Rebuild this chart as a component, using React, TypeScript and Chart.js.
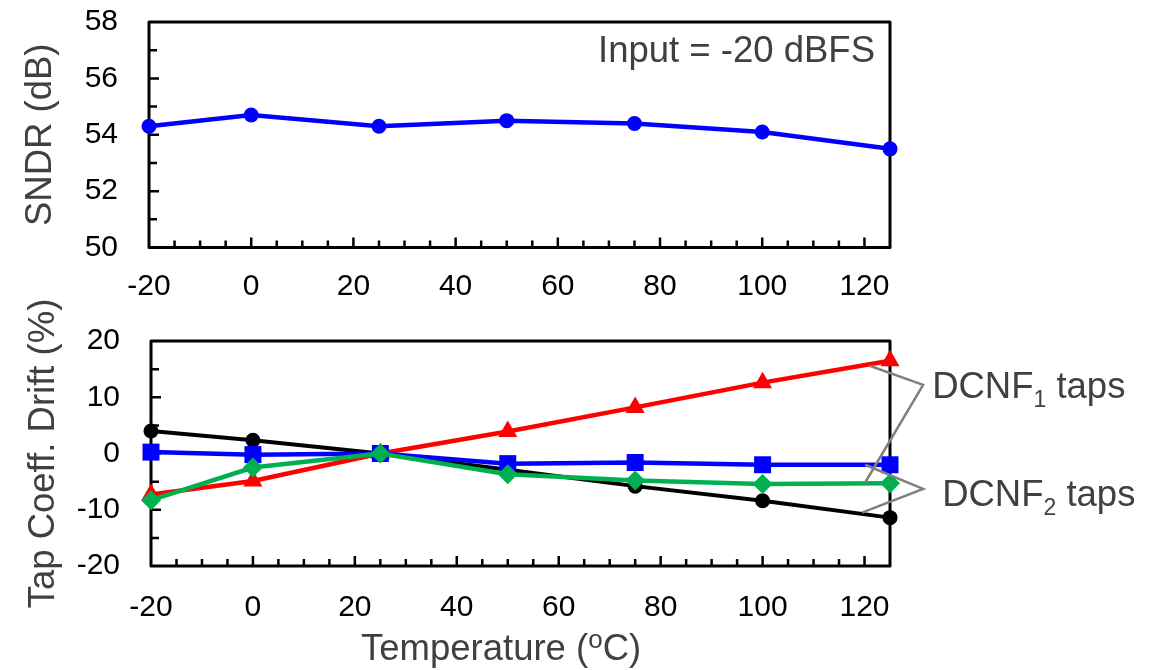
import React, { useEffect, useRef } from "react";
import { Chart, registerables } from "chart.js";

Chart.register(...registerables);

// ---------------- data ----------------
const temps = [-20, 0, 25, 50, 75, 100, 125];
const sndr = [54.3, 54.7, 54.3, 54.5, 54.4, 54.1, 53.5];
const dcnf1Red = [-7.3, -4.9, 0, 3.9, 8.2, 12.6, 16.5];
const dcnf1Green = [-8.3, -2.5, 0, -3.7, -4.8, -5.4, -5.3];
const dcnf2Blue = [0.25, -0.2, 0, -1.8, -1.6, -2.0, -2.0];
const dcnf2Black = [4.0, 2.35, 0, -2.9, -5.8, -8.4, -11.4];

const xTickLabels = [-20, 0, 20, 40, 60, 80, 100, 120];
const sndrTicks = [50, 52, 54, 56, 58];
const driftTicks = [-20, -10, 0, 10, 20];

// annotation anchors (data units of the lower chart)
const dcnf1Vertex = [131.5, 12.2];
const dcnf1Ends = [
  [121.0, 15.6],
  [120.1, -5.2],
];
const dcnf2Vertex = [131.5, -6.3];
const dcnf2Ends = [
  [120.1, -2.0],
  [119.5, -10.5],
];

const FONT = '"Liberation Sans", Arial, Helvetica, sans-serif';
const TITLE_SIZE = 36.5;
const TICK_SIZE = 30;
const GREY_TEXT = "#404040";

Chart.defaults.font.family = FONT;

const pts = (ys: number[]) => temps.map((x, i) => ({ x, y: ys[i] }));

function frameTicksPlugin(
  xMin: number,
  xMax: number,
  xMinor: number,
  xMajor: number,
  yMin: number,
  yMax: number,
  yMinor: number,
  yMajor: number
) {
  return {
    id: "frameTicks",
    beforeDatasetsDraw(chart: any) {
      const { ctx, chartArea: a, scales } = chart;
      const xs = scales.x;
      const ys = scales.y;
      ctx.save();
      ctx.strokeStyle = "#000";
      ctx.lineWidth = 2.5;
      ctx.lineCap = "butt";
      ctx.beginPath();
      for (let v = xMin + xMinor; v < xMax; v += xMinor) {
        const px = xs.getPixelForValue(v);
        const major = Math.abs((v - xMin) % xMajor) < 1e-9;
        const len = major ? 10 : 7;
        ctx.moveTo(px, a.bottom);
        ctx.lineTo(px, a.bottom - len);
      }
      for (let v = yMin + yMinor; v < yMax; v += yMinor) {
        const py = ys.getPixelForValue(v);
        const major = Math.abs((v - yMin) % yMajor) < 1e-9;
        const len = major ? 10 : 8;
        ctx.moveTo(a.left, py);
        ctx.lineTo(a.left + len, py);
      }
      ctx.stroke();
      ctx.lineWidth = 3;
      ctx.lineJoin = "round";
      ctx.strokeRect(a.left, a.top, a.right - a.left, a.bottom - a.top);
      ctx.restore();
    },
  };
}

const topTextPlugin = {
  id: "topText",
  afterDatasetsDraw(chart: any) {
    const { ctx, chartArea: a } = chart;
    ctx.save();
    ctx.font = `${TITLE_SIZE}px ${FONT}`;
    ctx.fillStyle = GREY_TEXT;
    ctx.textAlign = "right";
    ctx.textBaseline = "alphabetic";
    ctx.fillText("Input = -20 dBFS", a.right - 15, a.top + 40);
    ctx.restore();
  },
};

function drawSubLabel(ctx: any, x: number, y: number, main: string, sub: string, rest: string) {
  ctx.font = `${TITLE_SIZE}px ${FONT}`;
  ctx.fillText(main, x, y);
  let cx = x + ctx.measureText(main).width;
  ctx.font = `${23}px ${FONT}`;
  ctx.fillText(sub, cx, y + 9);
  cx += ctx.measureText(sub).width;
  ctx.font = `${TITLE_SIZE}px ${FONT}`;
  ctx.fillText(rest, cx, y);
}

const bottomTextPlugin = {
  id: "bottomText",
  afterDatasetsDraw(chart: any) {
    const { ctx, scales } = chart;
    const xs = scales.x;
    const ys = scales.y;
    const P = (p: number[]) => [xs.getPixelForValue(p[0]), ys.getPixelForValue(p[1])];
    ctx.save();
    // brackets
    ctx.strokeStyle = "#808080";
    ctx.lineWidth = 2.5;
    ctx.lineJoin = "miter";
    const brackets: [number[], number[][]][] = [
      [dcnf1Vertex, dcnf1Ends],
      [dcnf2Vertex, dcnf2Ends],
    ];
    for (const [v, ends] of brackets) {
      const pv = P(v);
      const e0 = P(ends[0]);
      const e1 = P(ends[1]);
      ctx.beginPath();
      ctx.moveTo(e0[0], e0[1]);
      ctx.lineTo(pv[0], pv[1]);
      ctx.lineTo(e1[0], e1[1]);
      ctx.stroke();
    }
    ctx.fillStyle = GREY_TEXT;
    ctx.textAlign = "left";
    ctx.textBaseline = "alphabetic";
    const v1 = P(dcnf1Vertex);
    const v2 = P(dcnf2Vertex);
    drawSubLabel(ctx, v1[0] + 9, v1[1] + 13, "DCNF", "1", " taps");
    drawSubLabel(ctx, v2[0] + 19, v2[1] + 17, "DCNF", "2", " taps");

    // x-axis title with superscript
    const base = chart.height - 10;
    const startX = 361;
    ctx.font = `${TITLE_SIZE}px ${FONT}`;
    const t1 = "Temperature (";
    ctx.fillText(t1, startX, base);
    let cx = startX + ctx.measureText(t1).width;
    ctx.font = `${26}px ${FONT}`;
    ctx.fillText("o", cx, base - 12.5);
    cx += ctx.measureText("o").width;
    ctx.font = `${TITLE_SIZE}px ${FONT}`;
    ctx.fillText("C)", cx, base);
    ctx.restore();
  },
};

function xScale(padding: number, height: number) {
  return {
    type: "linear" as const,
    min: -20,
    max: 125,
    grid: { display: false, drawTicks: false },
    border: { display: false },
    ticks: {
      padding,
      color: "#000",
      font: { size: TICK_SIZE },
      maxRotation: 0,
      autoSkip: false,
    },
    afterBuildTicks: (s: any) => {
      s.ticks = xTickLabels.map((v) => ({ value: v }));
    },
    afterFit: (s: any) => {
      s.height = height;
      s.paddingLeft = 0;
      s.paddingRight = 0;
      s.paddingTop = 0;
      s.paddingBottom = 0;
    },
  };
}

function yScale(min: number, max: number, ticks: number[], title: string, titlePad: number, width: number) {
  return {
    type: "linear" as const,
    min,
    max,
    grid: { display: false, drawTicks: false },
    border: { display: false },
    ticks: {
      padding: 31,
      color: "#000",
      font: { size: TICK_SIZE },
      autoSkip: false,
    },
    title: {
      display: true,
      text: title,
      color: GREY_TEXT,
      font: { size: TITLE_SIZE },
      padding: { top: titlePad, bottom: 0 },
    },
    afterBuildTicks: (s: any) => {
      s.ticks = ticks.map((v) => ({ value: v }));
    },
    afterFit: (s: any) => {
      s.width = width;
      s.paddingLeft = 0;
      s.paddingRight = 0;
      s.paddingTop = 0;
      s.paddingBottom = 0;
    },
  };
}

export default function App() {
  const topRef = useRef<HTMLCanvasElement>(null);
  const botRef = useRef<HTMLCanvasElement>(null);

  useEffect(() => {
    const common = {
      responsive: false,
      animation: false as const,
      plugins: { legend: { display: false }, tooltip: { enabled: false } },
      elements: { line: { tension: 0 } },
    };

    const c1 = new Chart(topRef.current as HTMLCanvasElement, {
      type: "line",
      data: {
        datasets: [
          {
            data: pts(sndr),
            borderColor: "#0000FF",
            backgroundColor: "#0000FF",
            borderWidth: 4.5,
            pointStyle: "circle",
            pointRadius: 7.5,
            pointBorderWidth: 0,
            clip: false,
          } as any,
        ],
      },
      options: {
        ...common,
        layout: { padding: { left: 0, top: 22, right: 273, bottom: 0 } },
        scales: {
          x: xScale(21, 62.5),
          y: yScale(50, 58, sndrTicks, "SNDR (dB)", 19, 149),
        },
      } as any,
      plugins: [frameTicksPlugin(-20, 125, 5, 20, 50, 58, 1, 2), topTextPlugin],
    });

    const mk = (ys: number[], color: string, style: string, r: number, bw: number) =>
      ({
        data: pts(ys),
        borderColor: color,
        backgroundColor: color,
        borderWidth: bw,
        pointStyle: style,
        pointRadius: r,
        pointBorderWidth: 0,
        clip: false,
      } as any);

    const c2 = new Chart(botRef.current as HTMLCanvasElement, {
      type: "line",
      data: {
        datasets: [
          mk(dcnf1Green, "#00B050", "rectRot", 10, 4.5),
          mk(dcnf2Blue, "#0000FF", "rect", 12, 4.5),
          mk(dcnf1Red, "#FF0000", "triangle", 11, 4.5),
          mk(dcnf2Black, "#000000", "circle", 7.5, 4),
        ],
      },
      options: {
        ...common,
        layout: { padding: { left: 0, top: 51, right: 273, bottom: 0 } },
        scales: {
          x: xScale(23.5, 104),
          y: yScale(-20, 20, driftTicks, "Tap Coeff. Drift (%)", 22.5, 151),
        },
      } as any,
      plugins: [frameTicksPlugin(-20, 125, 5, 20, -20, 20, 5, 10), bottomTextPlugin],
    });

    return () => {
      c1.destroy();
      c2.destroy();
    };
  }, []);

  return (
    <div style={{ position: "absolute", left: 0, top: 0, width: 1163, height: 670, background: "#fff" }}>
      <canvas ref={topRef} width={1163} height={310} style={{ position: "absolute", left: 0, top: 0 }} />
      <canvas ref={botRef} width={1163} height={380} style={{ position: "absolute", left: 0, top: 290 }} />
    </div>
  );
}
